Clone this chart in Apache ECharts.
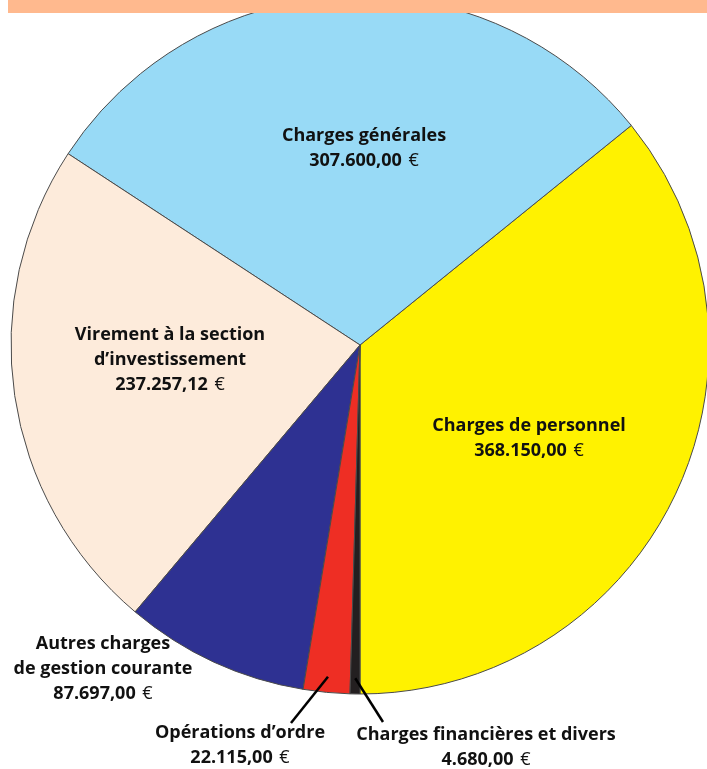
<!DOCTYPE html>
<html><head><meta charset="utf-8">
<script src="https://cdn.jsdelivr.net/npm/echarts@6/dist/echarts.min.js"></script>
<style>html,body{margin:0;padding:0;background:#fff}#c{width:707px;height:769px}</style>
</head><body><div id="c"></div>
<script>
const categories = ['Charges de personnel', 'Charges générales', 'Virement à la section d\u2019investissement', 'Autres charges de gestion courante', 'Opérations d\u2019ordre', 'Charges financières et divers'];
const values = [368150.00, 307600.00, 237257.12, 87697.00, 22115.00, 4680.00];
const nameLines = [['Charges de personnel'], ['Charges générales'], ['Virement à la section', 'd\u2019investissement'], ['Autres charges', 'de gestion courante'], ['Opérations d\u2019ordre'], ['Charges financières et divers']];
const valueTexts = ['368.150,00', '307.600,00', '237.257,12', '87.697,00', '22.115,00', '4.680,00'];
const colors = ['#FFF200', '#98DAF6', '#FDEBDB', '#2E3192', '#EE2E24', '#231F20'];

// layout only
const CX = 360, CY = 345, R = 349, START = 270;
const labelPos = [[529, 438], [364, 148], [170, 360], [103, 669], [240, 745], [486, 747]];
const leaderEnd = [null, null, null, null, [291, 723], [383, 722]];
const leaderStartFrac = 0.955;

const total = values.reduce((a, b) => a + b, 0);
const graphics = [{
  type: 'rect', z: 100,
  shape: { x: 8, y: 0, width: 699, height: 13 },
  style: { fill: '#FFB98E' }
}];
let cum = 0;
values.forEach((v, i) => {
  const mid = (START + 360 * (cum + v / 2) / total) * Math.PI / 180;
  cum += v;
  if (!leaderEnd[i]) return;
  const r = R * leaderStartFrac;
  const sx = CX + r * Math.cos(mid), sy = CY - r * Math.sin(mid);
  graphics.push({
    type: 'line', z: 50,
    shape: { x1: sx, y1: sy, x2: leaderEnd[i][0], y2: leaderEnd[i][1] },
    style: { stroke: '#000', lineWidth: 2.5 }
  });
});

const chart = echarts.init(document.getElementById('c'));
const data = categories.map((c, i) => ({
  name: c,
  value: values[i],
  itemStyle: { color: colors[i] }
}));

chart.setOption({
  animation: false,
  series: [{
    type: 'pie',
    center: [CX, CY],
    radius: R,
    startAngle: START,
    clockwise: false,
    avoidLabelOverlap: false,
    itemStyle: { borderColor: '#4a4a4a', borderWidth: 1 },
    emphasis: { disabled: true },
    data: data,
    label: {
      show: true,
      position: 'inside',
      color: '#111',
      align: 'center',
      formatter: function (p) {
        const i = p.dataIndex;
        return nameLines[i].map(s => '{b|' + s + '}').join('\n') + '\n{b|' + valueTexts[i] + '}  {e|€}';
      },
      rich: {
        b: { fontFamily: 'Open Sans', fontWeight: 'bold', fontSize: 18, lineHeight: 25, color: '#111' },
        e: { fontFamily: 'Open Sans', fontWeight: 'normal', fontSize: 18, lineHeight: 25, color: '#111' }
      }
    },
    labelLine: { show: false },
    labelLayout: function (params) {
      const i = params.dataIndex;
      return { x: labelPos[i][0], y: labelPos[i][1], align: 'center', verticalAlign: 'middle' };
    }
  }],
  graphic: graphics
});
</script></body></html>
